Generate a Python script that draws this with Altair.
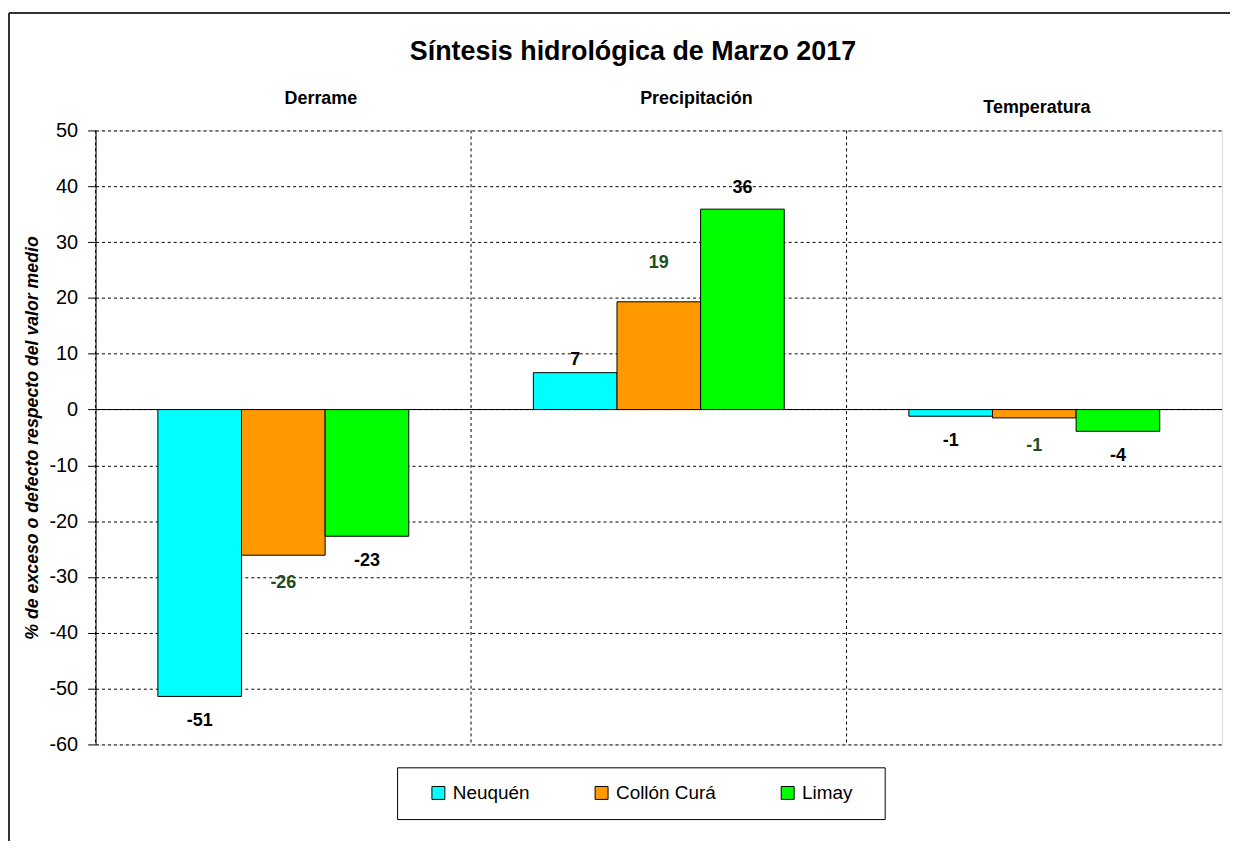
import altair as alt
import pandas as pd

# ---------------- data ----------------
categories = ["Derrame", "Precipitación", "Temperatura"]
series = ["Neuquén", "Collón Curá", "Limay"]
neuquen = [-51.4, 6.6, -1.2]
collon_cura = [-26.1, 19.3, -1.5]
limay = [-22.7, 35.9, -3.9]
y_ticks = [-60, -50, -40, -30, -20, -10, 0, 10, 20, 30, 40, 50]

values_by_series = {"Neuquén": neuquen, "Collón Curá": collon_cura, "Limay": limay}
rows = []
for s in series:
    for c, v in zip(categories, values_by_series[s]):
        rows.append({"Variable": c, "Cuenca": s, "Valor": v})
df = pd.DataFrame(rows)
df_cats = pd.DataFrame({"Variable": categories})

# ---------------- styles ----------------
colors = ["#00FFFF", "#FF9900", "#00FF00"]
FONT = "Liberation Sans, Arial, sans-serif"
W, H = 1132, 617
TRAIL = "\u00a0" * 3 + "\u200b"  # keeps extra room at the right of the legend box
label_style = {  # series: (dy for positive, dy for negative, colour)
    "Neuquén": (-13, 25, "black"),
    "Collón Curá": (-39, 28, "#1E4D1E"),
    "Limay": (-21, 25, "black"),
}

x_scale = alt.Scale(domain=categories, paddingInner=0, paddingOuter=0)
x_enc = alt.X("Variable:N", scale=x_scale, title=None, axis=None)
xoff_enc = alt.XOffset(
    "Cuenca:N",
    scale=alt.Scale(domain=series, paddingInner=0, paddingOuter=0.745),
)
y_enc = alt.Y(
    "Valor:Q",
    scale=alt.Scale(domain=[-60, 50], nice=False, zero=False),
    axis=alt.Axis(
        values=y_ticks,
        labelExpr="'' + datum.value",
        title="% de exceso o defecto respecto del valor medio",
        titleFontSize=17.8, titleFontWeight="bold", titleFontStyle="italic",
        titleColor="black", titleFont=FONT, titlePadding=7,
        labelFontSize=20, labelColor="black", labelFont=FONT, labelPadding=10,
        tickSize=8, tickColor="black", domainColor="black",
        grid=True, gridColor="black", gridDash=[3, 3], gridWidth=1,
    ),
)

# vertical dashed separators at category boundaries
vgrid = alt.Chart(df_cats).mark_rule(color="black", strokeDash=[3, 3], strokeWidth=1).encode(
    x=alt.X("Variable:N", scale=x_scale, bandPosition=0, axis=None)
)

# category headers above the plot
cat_main = (
    alt.Chart(df_cats)
    .transform_filter("datum.Variable != 'Temperatura'")
    .mark_text(fontSize=18, fontWeight="bold", font=FONT, color="black", baseline="middle")
    .encode(x=alt.X("Variable:N", scale=x_scale, bandPosition=0.6, axis=None),
            y=alt.value(-32), text="Variable:N")
)
cat_temp = (
    alt.Chart(df_cats)
    .transform_filter("datum.Variable == 'Temperatura'")
    .mark_text(fontSize=18, fontWeight="bold", font=FONT, color="black", baseline="middle")
    .encode(x=alt.X("Variable:N", scale=x_scale, bandPosition=0.507, axis=None),
            y=alt.value(-23), text="Variable:N")
)

bars = alt.Chart(df).mark_bar(stroke="black", strokeWidth=1).encode(
    x=x_enc,
    xOffset=xoff_enc,
    y=y_enc,
    color=alt.Color(
        "Cuenca:N",
        scale=alt.Scale(domain=series, range=colors),
        legend=alt.Legend(
            title=" ", titleOrient="left", titleFontSize=1, titlePadding=16,
            orient="none", legendX=303, legendY=640, direction="horizontal",
            strokeColor="black", padding=16, columnPadding=62,
            symbolType="square", symbolSize=169, symbolStrokeColor="black",
            symbolStrokeWidth=1, labelFontSize=19, labelFont=FONT,
            labelColor="black", labelOffset=5,
            labelExpr="datum.label == 'Limay' ? 'Limay" + TRAIL + "' : datum.label",
        ),
    ),
)

zero = alt.Chart(alt.Data(values=[{}])).mark_rule(color="black", strokeWidth=1).encode(
    y=alt.datum(0)
)

texts = []
for s in series:
    dy_pos, dy_neg, col = label_style[s]
    for cond, dy in ((">= 0", dy_pos), ("< 0", dy_neg)):
        texts.append(
            alt.Chart(df)
            .transform_filter(f"datum.Cuenca == '{s}' && datum.Valor {cond}")
            .transform_calculate(lab="'' + round(datum.Valor)")
            .mark_text(fontSize=18, fontWeight="bold", font=FONT, color=col,
                       dy=dy, baseline="middle", align="center")
            .encode(x=x_enc, xOffset=xoff_enc, y=y_enc, text="lab:N")
        )

# decorative outer frame (top and left edges, as in the reference)
frame_top = alt.Chart(alt.Data(values=[{}])).mark_rule(color="#333333", strokeWidth=2).encode(
    x=alt.value(-87), x2=alt.value(W + 8), y=alt.value(-118)
)
frame_left = alt.Chart(alt.Data(values=[{}])).mark_rule(color="#333333", strokeWidth=2).encode(
    x=alt.value(-87), y=alt.value(-118), y2=alt.value(H + 97)
)

chart = alt.layer(vgrid, bars, zero, *texts, cat_main, cat_temp, frame_top, frame_left).properties(
    width=W,
    height=H,
    padding={"left": 0, "top": 2, "right": 0, "bottom": 0},
    title=alt.TitleParams(
        "Síntesis hidrológica de Marzo 2017", fontSize=27, font=FONT,
        fontWeight="bold", color="black", anchor="middle", offset=-54, dx=-26,
    ),
).configure_view(stroke="#888888", strokeWidth=1).configure(background="white")

chart.save("out.html", embed_options={"renderer": "svg", "actions": False})
